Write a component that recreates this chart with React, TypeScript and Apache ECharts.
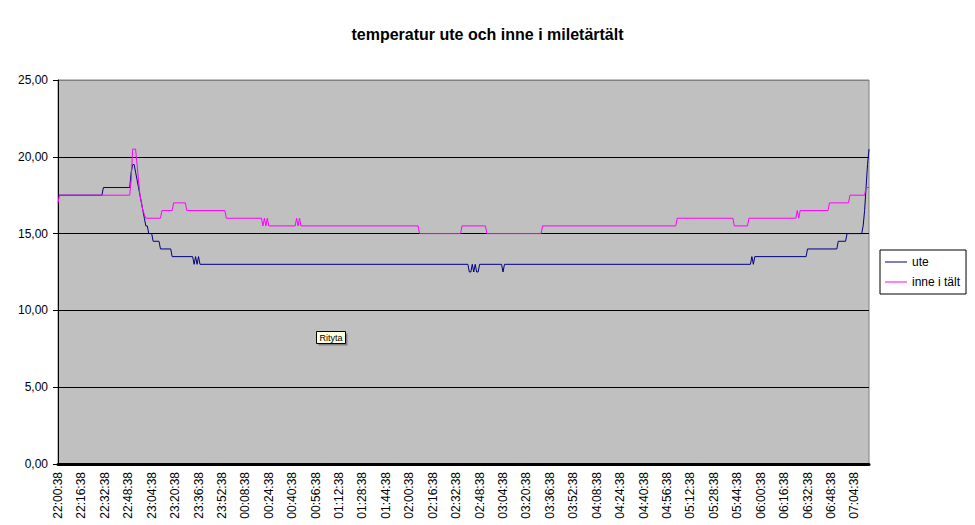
import { useEffect, useRef } from 'react';
import * as echarts from 'echarts';

// minutes after 22:00:38, one reading per minute; only the points where the value changes are listed
const UTE: [number, number][] = [
    [0, 17.5], [30, 17.5], [31, 18], [49, 18], [50, 19], [51, 19.5], [52, 19.5],
    [53, 19], [54, 18.5], [55, 18], [56, 17.5], [57, 17], [58, 16.5], [59, 16],
    [60, 15.5], [61, 15.5], [62, 15], [64, 15], [65, 14.5], [69, 14.5], [70, 14],
    [77, 14], [78, 13.5], [92, 13.5], [93, 13], [94, 13.5], [95, 13], [96, 13.5], [97, 13],
    [280, 13], [281, 12.5], [282, 12.5], [283, 13], [284, 12.5], [285, 13], [286, 12.5],
    [287, 12.5], [288, 13], [303, 13], [304, 12.5], [305, 13],
    [473, 13], [474, 13.5], [475, 13], [476, 13.5], [511, 13.5], [512, 14],
    [532, 14], [533, 14.5], [538, 14.5], [539, 15], [549, 15], [550, 15.5],
    [551, 16.5], [552, 18], [553, 19.5], [554, 20.5]
];

const INNE: [number, number][] = [
    [0, 17], [1, 17.5], [49, 17.5], [50, 18.5], [51, 20.5], [53, 20.5], [54, 19.5],
    [55, 18.5], [56, 17.5], [57, 17], [58, 16.5], [60, 16], [70, 16], [71, 16.5],
    [78, 16.5], [79, 17], [87, 17], [88, 16.5], [114, 16.5], [115, 16],
    [139, 16], [140, 15.5], [141, 16], [142, 15.5], [143, 16], [144, 15.5],
    [162, 15.5], [163, 16], [164, 15.5], [165, 16], [166, 15.5],
    [246, 15.5], [247, 15], [275, 15], [276, 15.5], [292, 15.5], [293, 15],
    [330, 15], [331, 15.5], [422, 15.5], [423, 16], [461, 16], [462, 15.5],
    [471, 15.5], [472, 16], [504, 16], [505, 16.5], [506, 16], [507, 16.5],
    [526, 16.5], [527, 17], [540, 17], [541, 17.5], [551, 17.5], [552, 18], [554, 18]
];

const TICK_LABELS = [
    '22:00:38', '22:16:38', '22:32:38', '22:48:38', '23:04:38', '23:20:38', '23:36:38',
    '23:52:38', '00:08:38', '00:24:38', '00:40:38', '00:56:38', '01:12:38', '01:28:38',
    '01:44:38', '02:00:38', '02:16:38', '02:32:38', '02:48:38', '03:04:38', '03:20:38',
    '03:36:38', '03:52:38', '04:08:38', '04:24:38', '04:40:38', '04:56:38', '05:12:38',
    '05:28:38', '05:44:38', '06:00:38', '06:16:38', '06:32:38', '06:48:38', '07:04:38'
];

const FONT = 'Arial, "Liberation Sans", sans-serif';

export default function App() {
    const chartRef = useRef<HTMLDivElement>(null);

    useEffect(() => {
        if (!chartRef.current) return;
        const chart = echarts.init(chartRef.current, null, { renderer: 'svg' });

        const option: echarts.EChartsOption = {
            animation: false,
            backgroundColor: '#ffffff',
            title: {
                text: 'temperatur ute och inne i miletärtält',
                left: 'center',
                top: 21,
                textStyle: { fontFamily: FONT, fontSize: 16, fontWeight: 'bold', color: '#000' }
            },
            grid: {
                left: 58,
                right: 106,
                top: 80,
                bottom: 61,
                show: true,
                backgroundColor: '#c0c0c0',
                borderColor: '#808080',
                borderWidth: 1
            },
            legend: {
                orient: 'vertical',
                left: 880,
                top: 250,
                icon: 'rect',
                itemWidth: 22,
                itemHeight: 1,
                itemGap: 8,
                padding: [6, 6, 6, 5],
                backgroundColor: '#ffffff',
                borderColor: '#000',
                borderWidth: 1,
                borderRadius: 0,
                textStyle: { fontFamily: FONT, fontSize: 12, color: '#000' },
                data: ['ute', 'inne i tält']
            },
            xAxis: {
                type: 'value',
                min: 0,
                max: 554,
                interval: 16,
                axisLine: { show: true, onZero: false, lineStyle: { color: '#000', width: 3 } },
                axisTick: { show: false },
                splitLine: { show: false },
                axisLabel: {
                    rotate: 90,
                    margin: 8,
                    fontFamily: FONT,
                    fontSize: 12,
                    color: '#000',
                    showMaxLabel: false,
                    formatter: (v: number) => (v % 16 === 0 ? TICK_LABELS[v / 16] ?? '' : '')
                }
            },
            yAxis: {
                type: 'value',
                min: 0,
                max: 25,
                interval: 5,
                axisLine: { show: true, lineStyle: { color: '#000', width: 1 } },
                axisTick: { show: true, length: 5, lineStyle: { color: '#000' } },
                splitLine: {
                    show: true,
                    lineStyle: { color: ['#000', '#000', '#000', '#000', '#000', '#808080'], width: 1 }
                },
                axisLabel: {
                    margin: 10,
                    fontFamily: FONT,
                    fontSize: 12,
                    color: '#000',
                    formatter: (v: number) => v.toFixed(2).replace('.', ',')
                }
            },
            series: [
                {
                    name: 'ute',
                    type: 'line',
                    data: UTE,
                    symbol: 'none',
                    lineStyle: { color: '#000080', width: 1 },
                    itemStyle: { color: '#000080' }
                },
                {
                    name: 'inne i tält',
                    type: 'line',
                    data: INNE,
                    symbol: 'none',
                    lineStyle: { color: '#ff00ff', width: 1 },
                    itemStyle: { color: '#ff00ff' }
                }
            ],
            graphic: [
                {
                    type: 'group',
                    left: 316,
                    top: 331,
                    children: [
                        { type: 'rect', shape: { x: 2, y: 2, width: 29, height: 12 }, style: { fill: '#808080' } },
                        { type: 'rect', shape: { x: 0, y: 0, width: 29, height: 12 }, style: { fill: '#ffffe1', stroke: '#000', lineWidth: 1 } },
                        {
                            type: 'text',
                            x: 14.5,
                            y: 6,
                            style: { text: 'Rityta', fontFamily: FONT, fontSize: 9, fill: '#000', align: 'center', verticalAlign: 'middle' }
                        }
                    ]
                }
            ]
        };

        chart.setOption(option);
        return () => {
            chart.dispose();
        };
    }, []);

    return <div ref={chartRef} style={{ position: 'absolute', left: 0, top: 0, width: 975, height: 525 }} />;
}
